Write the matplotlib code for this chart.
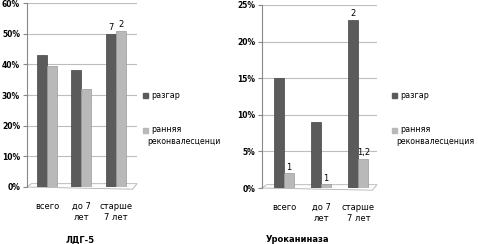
import matplotlib.pyplot as plt
import numpy as np

categories = ['всего', 'до 7\nлет', 'старше\n7 лет']
series_names = ['разгар', 'ранняя\nреконвалесценци']
series_names_r = ['разгар', 'ранняя\nреконвалесценция']

ldg_peak = [43, 38, 50]
ldg_early = [39.5, 32, 51]
ldg_peak_lbl = ['', '', '7']
ldg_early_lbl = ['', '', '2']

uro_peak = [15, 9, 23]
uro_early = [2, 0.5, 4]
uro_peak_lbl = ['', '', '2']
uro_early_lbl = ['1', '1', '1,2']

dark = '#5b5b5b'
light = '#b9b9b9'
W, H = 478, 244

fig = plt.figure(figsize=(W / 100, H / 100), dpi=100)
plt.rcParams['font.family'] = 'DejaVu Sans'


def px_axes(x0, x1, y0, y1):
    return fig.add_axes([x0 / W, 1 - y1 / H, (x1 - x0) / W, (y1 - y0) / H])


def draw(ax, peak, early, plbl, elbl, ymax, step, xlim, bw, title, tx, names, lx):
    x = np.arange(len(categories))
    b1 = ax.bar(x - bw / 2, peak, bw, color=dark, edgecolor='#444444', lw=0.5, zorder=3)
    b2 = ax.bar(x + bw / 2, early, bw, color=light, edgecolor='#9a9a9a', lw=0.5, zorder=3)
    ax.bar_label(b1, labels=plbl, fontsize=6, padding=1)
    ax.bar_label(b2, labels=elbl, fontsize=6, padding=1)
    ax.set_xlim(*xlim)
    ax.set_ylim(0, ymax)
    ticks = np.arange(0, ymax + 0.1, step)
    ax.set_yticks(ticks)
    ax.set_yticklabels([f'{int(t)}%' for t in ticks], fontsize=5.5, fontweight='bold')
    ax.set_xticks(x)
    ax.set_xticklabels(categories, fontsize=6)
    ax.tick_params(axis='x', length=0, pad=11)
    ax.tick_params(axis='y', length=3, color='#888888', pad=2)
    ax.grid(axis='y', color='#bdbdbd', lw=0.8, zorder=0)
    for s in ['top', 'right', 'bottom']:
        ax.spines[s].set_visible(False)
    ax.spines['left'].set_color('#888888')
    # floor in perspective
    ax.plot([0, 0.04, 1, 0.96, 0], [0, 0.018, 0.018, -0.012, 0], transform=ax.transAxes,
            color='#b0b0b0', lw=0.6, clip_on=False)
    fig.text(tx / W, 1 - 240 / H, title, fontsize=6, fontweight='bold', ha='center', va='center')
    fig.patches.append(plt.Rectangle((lx / W, 1 - 98 / H), 5 / W, 5 / H,
                                     transform=fig.transFigure, color=dark))
    fig.patches.append(plt.Rectangle((lx / W, 1 - 133 / H), 5 / W, 5 / H,
                                     transform=fig.transFigure, color=light))
    fig.text((lx + 8) / W, 1 - 95 / H, names[0], fontsize=5.8, va='center')
    fig.text((lx + 8) / W, 1 - 130 / H, names[1].split('\n')[0], fontsize=5.8, va='center')
    fig.text((lx + 4) / W, 1 - 142 / H, names[1].split('\n')[1], fontsize=5.6, va='center')


ax1 = px_axes(27, 137, 3, 187)
draw(ax1, ldg_peak, ldg_early, ldg_peak_lbl, ldg_early_lbl, 60, 10, (-0.58, 2.61), 0.29,
     'ЛДГ-5', 80, series_names, 143)

ax2 = px_axes(262, 377, 5, 188)
draw(ax2, uro_peak, uro_early, uro_peak_lbl, uro_early_lbl, 25, 5, (-0.59, 2.5), 0.27,
     'Уроканиназа', 297, series_names_r, 392)

fig.savefig('out.png', dpi=100)
